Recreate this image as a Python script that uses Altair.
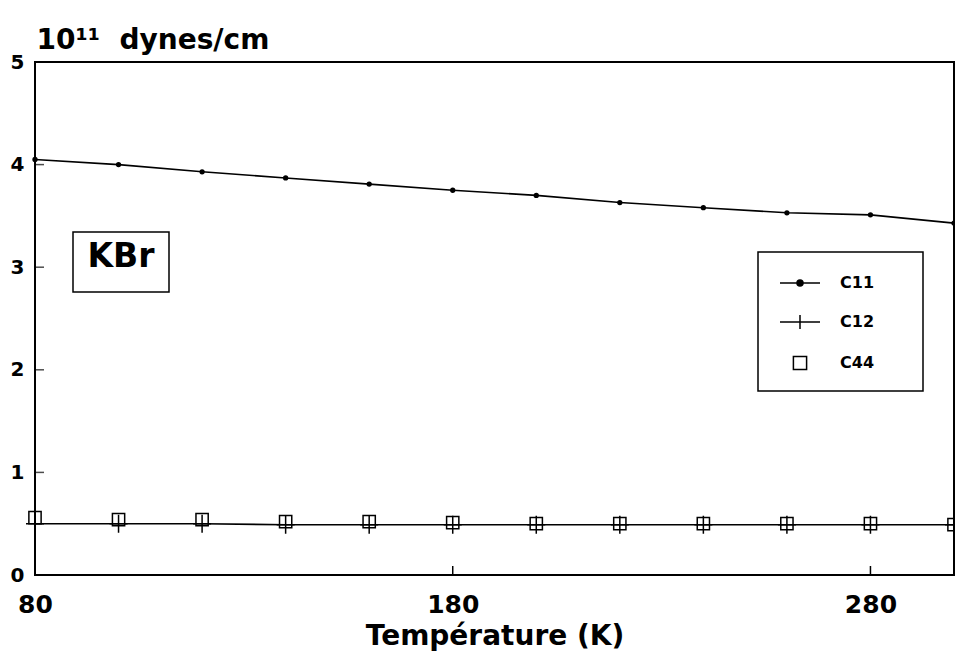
import altair as alt
import pandas as pd

# ---- data ----
temps = [80, 100, 120, 140, 160, 180, 200, 220, 240, 260, 280, 300]
c11 = [4.05, 4.00, 3.93, 3.87, 3.81, 3.75, 3.70, 3.63, 3.58, 3.53, 3.51, 3.43]
c12 = [0.50, 0.50, 0.50, 0.49, 0.49, 0.49, 0.49, 0.49, 0.49, 0.49, 0.49, 0.49]
c44 = [0.56, 0.54, 0.54, 0.52, 0.52, 0.51, 0.50, 0.50, 0.50, 0.50, 0.50, 0.49]
series_names = ["C11", "C12", "C44"]
y_ticks = [1, 2, 3, 4]
x_ticks = [180, 280]
x_labels = [80, 180, 280]
y_labels = [0, 1, 2, 3, 4, 5]

rows = []
for name, vals in zip(series_names, [c11, c12, c44]):
    for t, v in zip(temps, vals):
        rows.append({"T": t, "value": v, "series": name})
df = pd.DataFrame(rows)

FONT = "DejaVu Sans"
W, H = 919, 513

xs = alt.Scale(domain=[80, 300], nice=False)
ys = alt.Scale(domain=[0, 5], nice=False)

x_enc = alt.X("T:Q", scale=xs, axis=alt.Axis(
    values=x_labels, format="d", title="Température (K)", labelFlush=False, labelOverlap=False,
    ticks=False, tickSize=0, domain=False, grid=False,
    labelFont=FONT, labelFontSize=25, labelFontWeight="bold", labelColor="black",
    labelBaseline="alphabetic", labelPadding=37,
    titleFont=FONT, titleFontSize=28, titleFontWeight="bold", titleColor="black",
    titleBaseline="alphabetic", titleY=69))
y_enc = alt.Y("value:Q", scale=ys, axis=alt.Axis(
    values=y_labels, format="d", title="10¹¹\u00a0 dynes/cm", ticks=False, tickSize=0,
    domain=False, grid=False,
    labelFont=FONT, labelFontSize=20, labelFontWeight="bold", labelColor="black",
    labelPadding=11, labelFlush=False,
    titleFont=FONT, titleFontSize=28, titleFontWeight="bold", titleColor="black",
    titleAngle=0, titleAlign="left", titleBaseline="alphabetic", titleX=1, titleY=-14))

base = alt.Chart(df).encode(x=x_enc, y=y_enc)

line11 = base.transform_filter(alt.datum.series == "C11").mark_line(color="black", strokeWidth=1.6)
dots11 = base.transform_filter(alt.datum.series == "C11").mark_circle(color="black", size=28, opacity=1)
line12 = base.transform_filter(alt.datum.series == "C12").mark_line(color="black", strokeWidth=1.6)
plus12 = base.transform_filter(alt.datum.series == "C12").mark_point(
    shape="M0,-1L0,1M-1,0L1,0", size=324, stroke="black", strokeWidth=1.5, filled=False, opacity=1)
sq44 = base.transform_filter(alt.datum.series == "C44").mark_point(
    shape="square", size=150, stroke="black", strokeWidth=1.5, filled=False, opacity=1)

# legend frame (drawn under the legend entries)
frame_df = pd.DataFrame({"k": [0]})
legend_frame = alt.Chart(frame_df).mark_rect(fill="white", stroke="black", strokeWidth=1.5).encode(
    x=alt.value(723), x2=alt.value(888), y=alt.value(190), y2=alt.value(329))

# legend carrier (invisible marks, real legend)
sym11 = "M-1,0L1,0M-0.15,0A0.15,0.15,0,1,0,0.15,0A0.15,0.15,0,1,0,-0.15,0Z"
sym12 = "M-1,0L1,0M0,-0.35L0,0.35"
sym44 = "M-0.33,-0.33L0.33,-0.33L0.33,0.33L-0.33,0.33Z"
leg = alt.Legend(title=None, orient="none", legendX=723, legendY=190,
                 symbolOpacity=1, symbolStrokeColor="black", symbolStrokeWidth=1.5)
legend_layer = base.transform_filter(alt.datum.T == 80).mark_point(
    opacity=0, strokeWidth=1.5).encode(
    shape=alt.Shape("series:N", scale=alt.Scale(domain=series_names, range=[sym11, sym12, sym44]),
                    legend=leg),
    fill=alt.Fill("series:N", scale=alt.Scale(domain=series_names, range=["black", "black", "white"]),
                  legend=leg),
    stroke=alt.Stroke("series:N", scale=alt.Scale(domain=series_names, range=["black", "black", "black"]),
                      legend=leg),
)

# inward ticks
ytick_df = pd.DataFrame({"value": y_ticks})
ytick = alt.Chart(ytick_df).mark_tick(color="black", thickness=1.5, orient="horizontal", size=9).encode(
    y=alt.Y("value:Q", scale=ys), x=alt.value(4.5))
xtick_df = pd.DataFrame({"T": x_ticks})
xtick = alt.Chart(xtick_df).mark_rule(color="black", strokeWidth=1.5).encode(
    x=alt.X("T:Q", scale=xs), y=alt.value(H), y2=alt.value(H - 9))

# KBr label box
kbr_df = pd.DataFrame({"label": ["KBr"]})
kbr_box = alt.Chart(kbr_df).mark_rect(fill="white", stroke="black", strokeWidth=1.5).encode(
    x=alt.value(38), x2=alt.value(134), y=alt.value(170), y2=alt.value(230))
kbr_text = alt.Chart(kbr_df).mark_text(font=FONT, fontSize=33, fontWeight="bold", color="black",
                                       baseline="middle", align="center").encode(
    x=alt.value(86), y=alt.value(195), text="label:N")

chart = alt.layer(
    line11, line12, dots11, plus12, sq44, legend_frame, legend_layer, ytick, xtick, kbr_box, kbr_text
).properties(
    width=W, height=H,
    autosize=alt.AutoSizeParams(type="none"),
    padding={"left": 27, "top": 54, "right": 1, "bottom": 76},
).configure_view(
    stroke="black", strokeWidth=2
).configure_legend(
    strokeColor="transparent", padding=10,
    symbolSize=1600, symbolStrokeWidth=1.5, symbolStrokeColor="black",
    symbolOffset=11, labelOffset=19, rowPadding=10,
    labelFont=FONT, labelFontSize=16, labelFontWeight="bold", labelColor="black",
)

chart.save("out.html", embed_options={"renderer": "svg", "actions": False})
